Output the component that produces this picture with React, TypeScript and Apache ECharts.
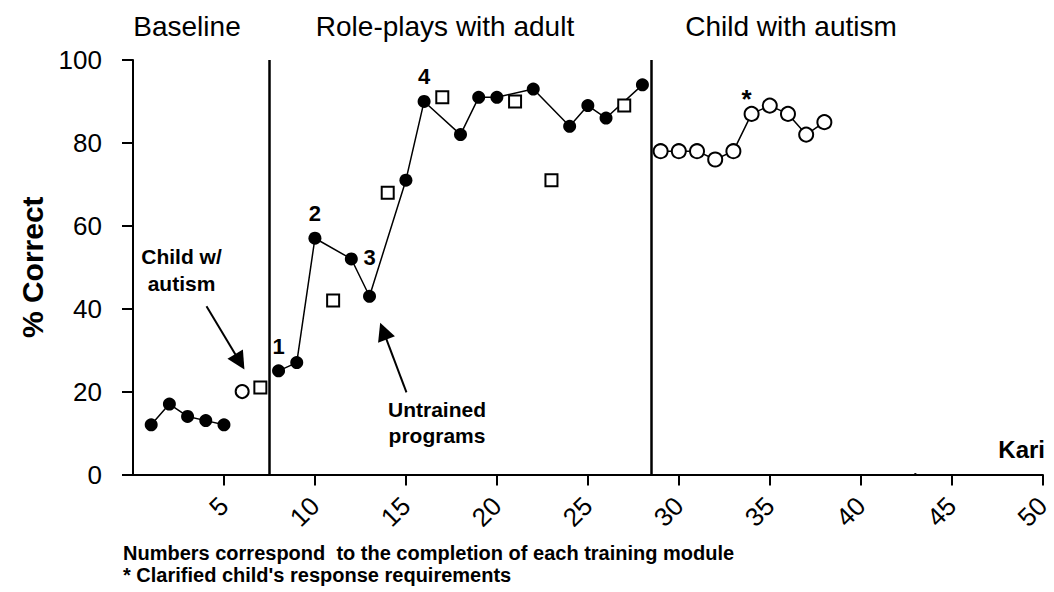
import React, { useEffect, useRef } from 'react';
import * as echarts from 'echarts';

const FONT = '"Liberation Sans", Arial, Helvetica, sans-serif';

// ---- data ----
const baselineSessions = [1, 2, 3, 4, 5];
const baselineValues = [12, 17, 14, 13, 12];
const probeSessions = [6];
const probeValues = [20];
const rolePlaySessions = [8, 9, 10, 12, 13, 15, 16, 18, 19, 20, 22, 24, 25, 26, 28];
const rolePlayValues = [25, 27, 57, 52, 43, 71, 90, 82, 91, 91, 93, 84, 89, 86, 94];
const untrainedSessions = [7, 11, 14, 17, 21, 23, 27];
const untrainedValues = [21, 42, 68, 91, 90, 71, 89];
const childSessions = [29, 30, 31, 32, 33, 34, 35, 36, 37, 38];
const childValues = [78, 78, 78, 76, 78, 87, 89, 87, 82, 85];
const straySessions = [43];
const strayValues = [0];
const phaseChanges = [7.5, 28.5];
const phaseTitles = ['Baseline', 'Role-plays with adult', 'Child with autism'];
const xTickValues = [5, 10, 15, 20, 25, 30, 35, 40, 45, 50];
const moduleSessions = [8, 10, 13, 16];
const moduleTexts = ['1', '2', '3', '4'];
const starSession = 34;
// arrows in data units: [tailX, tailY, headX, headY]
const childArrow = [4.04, 40.6, 5.87, 27.2];
const untrainedArrow = [15.03, 19.8, 13.76, 34.6];
const footnotes = [
  'Numbers correspond  to the completion of each training module',
  "* Clarified child's response requirements",
];

const pairs = (xs: number[], ys: number[]) => xs.map((x, i) => [x, ys[i]]);

export default function App() {
  const ref = useRef<HTMLDivElement>(null);

  useEffect(() => {
    if (!ref.current) return;
    const chart = echarts.init(ref.current, null, { renderer: 'svg' });

    const rolePlayData = rolePlaySessions.map((x, i) => {
      const k = moduleSessions.indexOf(x);
      const item: any = { value: [x, rolePlayValues[i]] };
      if (k >= 0) {
        item.label = {
          show: true,
          formatter: moduleTexts[k],
          position: 'top',
          distance: x === 13 ? 21 : 7,
          fontSize: 22,
          fontWeight: 'bold',
          fontFamily: FONT,
          color: '#000',
        };
      }
      return item;
    });

    const childData = childSessions.map((x, i) => {
      const item: any = { value: [x, childValues[i]] };
      if (x === starSession) {
        item.label = {
          show: true,
          formatter: '*',
          position: 'top',
          distance: -6,
          offset: [-5, 0],
          fontSize: 26,
          fontWeight: 'bold',
          fontFamily: FONT,
          color: '#000',
        };
      }
      return item;
    });

    const blackLine = { color: '#000', width: 1.5 };
    const textBase = { fontFamily: FONT, fill: '#000' };

    const option: any = {
      animation: false,
      backgroundColor: '#fff',
      grid: { left: 133, right: 6, top: 60, bottom: 117.5, containLabel: false },
      xAxis: {
        type: 'value',
        min: 0,
        max: 50,
        interval: 5,
        axisLine: { show: true, onZero: false, lineStyle: { color: '#000', width: 2 } },
        axisTick: { show: true, length: 11, lineStyle: { color: '#000', width: 2 }, customValues: xTickValues },
        axisLabel: {
          rotate: 45,
          margin: 27,
          fontSize: 26,
          color: '#000',
          fontFamily: FONT,
          customValues: xTickValues,
          formatter: (v: number) => (v === 0 ? '' : String(v)),
        },
        splitLine: { show: false },
      },
      yAxis: {
        type: 'value',
        min: 0,
        max: 100,
        interval: 20,
        name: '% Correct',
        nameLocation: 'middle',
        nameGap: 86,
        nameTextStyle: { fontSize: 30, fontWeight: 'bold', color: '#000', fontFamily: FONT },
        axisLine: { show: true, lineStyle: { color: '#000', width: 2 } },
        axisTick: { show: true, length: 11, lineStyle: { color: '#000', width: 2 } },
        axisLabel: { fontSize: 26, margin: 31, color: '#000', fontFamily: FONT },
        splitLine: { show: false },
      },
      series: [
        {
          type: 'line',
          data: pairs(baselineSessions, baselineValues),
          symbol: 'circle',
          symbolSize: 13,
          itemStyle: { color: '#000' },
          lineStyle: blackLine,
          z: 3,
          markLine: {
            silent: true,
            symbol: ['none', 'triangle'],
            symbolSize: 18,
            label: { show: false },
            lineStyle: { type: 'solid', color: '#000', width: 2 },
            data: [childArrow, untrainedArrow].map((a) => [
              { coord: [a[0], a[1]], symbol: 'none' },
              { coord: [a[2], a[3]], symbol: 'triangle', symbolSize: 18 },
            ]),
          },
        },
        {
          type: 'line',
          data: rolePlayData,
          symbol: 'circle',
          symbolSize: 13,
          itemStyle: { color: '#000' },
          lineStyle: blackLine,
          z: 3,
          markLine: {
            silent: true,
            symbol: ['none', 'none'],
            label: { show: false },
            lineStyle: { type: 'solid', color: '#000', width: 2.5 },
            data: phaseChanges.map((x) => ({ xAxis: x })),
          },
        },
        {
          type: 'scatter',
          data: pairs(untrainedSessions, untrainedValues),
          symbol: 'rect',
          symbolSize: 12,
          itemStyle: { color: '#fff', borderColor: '#000', borderWidth: 2, opacity: 1 },
          z: 5,
        },
        {
          type: 'scatter',
          data: pairs(probeSessions, probeValues),
          symbol: 'circle',
          symbolSize: 13,
          itemStyle: { color: '#fff', borderColor: '#000', borderWidth: 2, opacity: 1 },
          z: 5,
        },
        {
          type: 'line',
          data: childData,
          symbol: 'circle',
          symbolSize: 14,
          itemStyle: { color: '#fff', borderColor: '#000', borderWidth: 2 },
          lineStyle: blackLine,
          z: 4,
        },
        {
          type: 'scatter',
          data: pairs(straySessions, strayValues),
          symbol: 'circle',
          symbolSize: 3,
          itemStyle: { color: '#000', opacity: 1 },
          z: 6,
        },
      ],
      graphic: [
        { type: 'text', x: 187, y: 26, style: { ...textBase, text: phaseTitles[0], fontSize: 28, align: 'center', verticalAlign: 'middle' } },
        { type: 'text', x: 445, y: 26, style: { ...textBase, text: phaseTitles[1], fontSize: 28, align: 'center', verticalAlign: 'middle' } },
        { type: 'text', x: 791, y: 26, style: { ...textBase, text: phaseTitles[2], fontSize: 28, align: 'center', verticalAlign: 'middle' } },
        { type: 'text', x: 181.5, y: 270, style: { ...textBase, text: 'Child w/\nautism', fontSize: 21, fontWeight: 'bold', lineHeight: 26.6, align: 'center', verticalAlign: 'middle' } },
        { type: 'text', x: 437, y: 422, style: { ...textBase, text: 'Untrained\nprograms', fontSize: 21, fontWeight: 'bold', lineHeight: 26, align: 'center', verticalAlign: 'middle' } },
        { type: 'text', x: 1045, y: 449, style: { ...textBase, text: 'Kari', fontSize: 24, fontWeight: 'bold', align: 'right', verticalAlign: 'middle' } },
        { type: 'text', x: 123, y: 553, style: { ...textBase, text: footnotes[0], fontSize: 20, fontWeight: 'bold', align: 'left', verticalAlign: 'middle' } },
        { type: 'text', x: 123, y: 575, style: { ...textBase, text: footnotes[1], fontSize: 20, fontWeight: 'bold', align: 'left', verticalAlign: 'middle' } },
      ],
    };

    chart.setOption(option);
    return () => chart.dispose();
  }, []);

  return (
    <div
      ref={ref}
      style={{ position: 'absolute', left: 0, top: 0, width: 1054, height: 592, background: '#fff' }}
    />
  );
}
